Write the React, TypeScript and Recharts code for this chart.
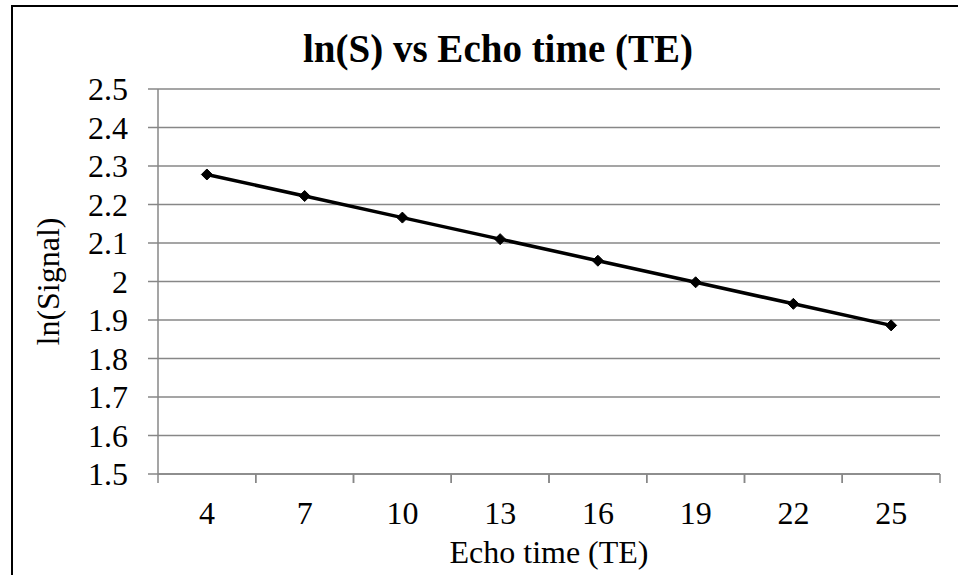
import { LineChart, Line, XAxis, YAxis, CartesianGrid, Label } from "recharts"

const echoTimes = ["4", "7", "10", "13", "16", "19", "22", "25"]
const lnSignal = [2.278, 2.222, 2.166, 2.11, 2.054, 1.998, 1.942, 1.886]
const yTicks = [1.5, 1.6, 1.7, 1.8, 1.9, 2, 2.1, 2.2, 2.3, 2.4, 2.5]

const data = echoTimes.map((te, i) => ({ te, value: lnSignal[i] }))

const FONT = '"Liberation Serif", "Times New Roman", serif'
const GRID = "#878787"
const PLOT_LEFT = 158
const PLOT_RIGHT = 940
const PLOT_TOP = 89
const PLOT_BOTTOM = 474
const BAND = (PLOT_RIGHT - PLOT_LEFT) / echoTimes.length

// Excel-style category axis: tick marks sit between categories
function XTick(props: any) {
  const { x, payload } = props
  return (
    <g>
      <line x1={x - BAND / 2} y1={PLOT_BOTTOM} x2={x - BAND / 2} y2={PLOT_BOTTOM + 9} stroke={GRID} strokeWidth={1.5} />
      <line x1={x + BAND / 2} y1={PLOT_BOTTOM} x2={x + BAND / 2} y2={PLOT_BOTTOM + 9} stroke={GRID} strokeWidth={1.5} />
      <text x={x} y={PLOT_BOTTOM + 50} textAnchor="middle" fontFamily={FONT} fontSize={32} fill="#000">
        {payload.value}
      </text>
    </g>
  )
}

function Diamond(props: any) {
  const { cx, cy } = props
  if (cx == null || cy == null) return null
  const r = 5.5
  return (
    <path
      d={`M${cx},${cy - r} L${cx + r},${cy} L${cx},${cy + r} L${cx - r},${cy} Z`}
      fill="#000"
      stroke="#000"
    />
  )
}

export default function App() {
  return (
    <div style={{ position: "absolute", left: 0, top: 0, width: 958, height: 575, background: "#fff", overflow: "hidden" }}>
      <div
        style={{
          position: "absolute",
          left: 11,
          top: 5,
          width: 960,
          height: 600,
          borderLeft: "2.5px solid #000",
          borderTop: "2.5px solid #000",
        }}
      />
      <div
        style={{
          position: "absolute",
          left: 0,
          top: 26,
          width: 996,
          textAlign: "center",
          fontFamily: FONT,
          fontWeight: "bold",
          fontSize: 39,
          lineHeight: "46px",
          color: "#000",
        }}
      >
        ln(S) vs Echo time (TE)
      </div>
      <div style={{ position: "absolute", left: 0, top: 0 }}>
        <LineChart
          width={958}
          height={575}
          data={data}
          margin={{ top: PLOT_TOP, right: 958 - PLOT_RIGHT, bottom: 0, left: 58 }}
        >
          <CartesianGrid vertical={false} stroke={GRID} strokeWidth={1.5} />
          <XAxis
            dataKey="te"
            height={575 - PLOT_BOTTOM}
            padding={{ left: BAND / 2, right: BAND / 2 }}
            axisLine={{ stroke: GRID, strokeWidth: 1.5 }}
            tickLine={false}
            tick={<XTick />}
            interval={0}
          >
            <Label
              content={() => (
                <text x={(PLOT_LEFT + PLOT_RIGHT) / 2} y={563} textAnchor="middle" fontFamily={FONT} fontSize={32} fill="#000">
                  Echo time (TE)
                </text>
              )}
            />
          </XAxis>
          <YAxis
            width={PLOT_LEFT - 58}
            domain={[1.5, 2.5]}
            ticks={yTicks}
            interval={0}
            tickFormatter={(v: number) => String(Number(v.toFixed(1)))}
            axisLine={{ stroke: GRID, strokeWidth: 1.5 }}
            tickLine={{ stroke: GRID, strokeWidth: 1.5 }}
            tickSize={10}
            tickMargin={20}
            tick={{ fontFamily: FONT, fontSize: 32, fill: "#000" }}
          >
            <Label
              content={() => (
                <text
                  x={48}
                  y={(PLOT_TOP + PLOT_BOTTOM) / 2}
                  transform={`rotate(-90 48 ${(PLOT_TOP + PLOT_BOTTOM) / 2})`}
                  textAnchor="middle"
                  dominantBaseline="central"
                  fontFamily={FONT}
                  fontSize={32}
                  fill="#000"
                >
                  ln(Signal)
                </text>
              )}
            />
          </YAxis>
          <Line
            type="linear"
            dataKey="value"
            stroke="#000"
            strokeWidth={3.5}
            dot={<Diamond />}
            activeDot={false}
            isAnimationActive={false}
          />
        </LineChart>
      </div>
    </div>
  )
}
